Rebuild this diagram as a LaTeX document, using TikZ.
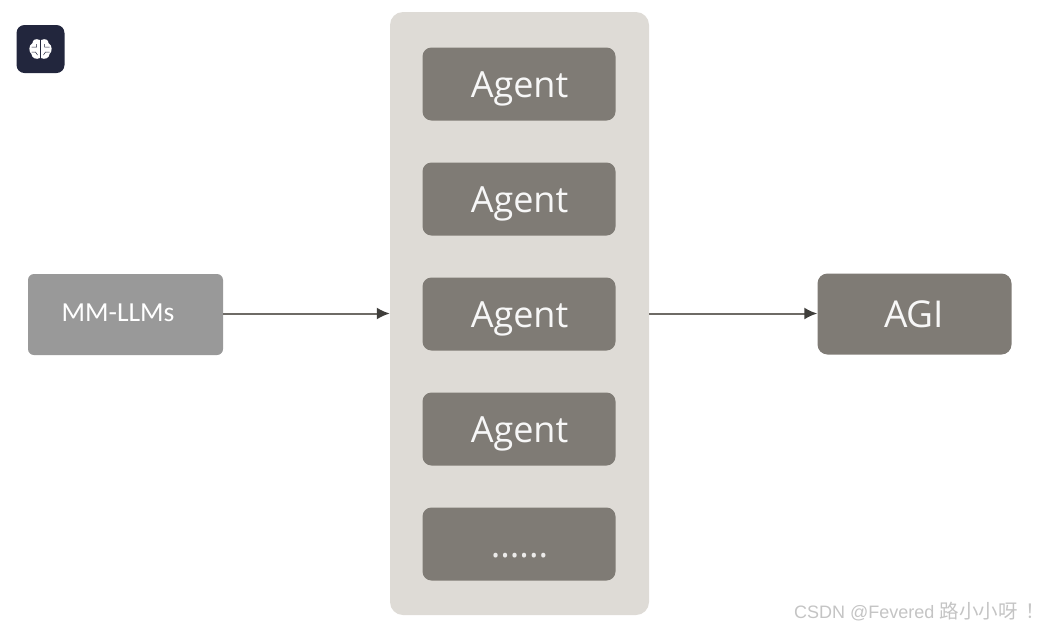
\documentclass[tikz,border=0pt]{standalone}
\usepackage{fontspec}
\setmainfont{Open Sans}
\newfontfamily\carlitofont{Carlito}
\newfontfamily\wmfont{Liberation Sans}
\newfontfamily\cjkfont{Noto Sans CJK SC}
\usetikzlibrary{arrows.meta}
\definecolor{panelc}{HTML}{DEDBD6}
\definecolor{agentc}{HTML}{7F7B75}
\definecolor{mmc}{HTML}{999999}
\definecolor{iconc}{HTML}{22263D}
\definecolor{linec}{HTML}{6E6B66}
\definecolor{tipc}{HTML}{3F3E3B}
\definecolor{wmc}{HTML}{C4C4C4}
\tikzset{
  panelbox/.style={fill=panelc,draw=none,rounded corners=13pt,minimum width=259pt,minimum height=603pt,inner sep=0pt},
  agentbox/.style={fill=agentc,draw=none,rounded corners=9pt,minimum width=193pt,minimum height=73pt,inner sep=0pt},
  agenttext/.style={text=white!94!agentc,inner sep=0pt,anchor=base,font=\fontsize{36}{36}\selectfont},
  mmbox/.style={fill=mmc,draw=none,rounded corners=6pt,minimum width=195pt,minimum height=81pt,inner sep=0pt},
  agibox/.style={fill=agentc,draw=none,rounded corners=10pt,minimum width=194pt,minimum height=81pt,inner sep=0pt},
  flow/.style={draw=linec,line width=2pt,-{Latex[length=13pt,width=12pt,color=tipc]}},
}
\begin{document}
\begin{tikzpicture}[x=1pt,y=-1pt]
\useasboundingbox (0,0) rectangle (1044,630);
\node[panelbox] (panel) at (519.5,313.5) {};
\node[agentbox] (a1) at (519,84) {};
\node[agentbox] (a2) at (519,199) {};
\node[agentbox] (a3) at (519,314) {};
\node[agentbox] (a4) at (519,429) {};
\node[agentbox] (a5) at (519,544) {};
\node[agenttext] (t1) at (519.5,97) {Agent};
\node[agenttext] (t2) at (519.5,212) {Agent};
\node[agenttext] (t3) at (519.5,327) {Agent};
\node[agenttext] (t4) at (519.5,442) {Agent};
\node[agenttext,text=white!85!agentc] (dots) at (519.5,557) {......};
\node[mmbox] (mm) at (125.5,314.5) {};
\node[text=white,inner sep=0pt,font=\carlitofont\fontsize{27.5}{28}\selectfont] (mmt) at (118,313) {MM-LLMs};
\node[agibox] (agi) at (914.5,314) {};
\node[text=white!94!agentc,inner sep=0pt,anchor=base,font=\fontsize{37}{37}\selectfont] (agit) at (914,327) {AGI};
\draw[flow] (mm.east |- 0,313.5) -- (panel.west |- 0,313.5);
\draw[flow] (panel.east |- 0,313.5) -- (agi.west |- 0,313.5);
\node[fill=iconc,draw=none,rounded corners=8pt,minimum size=48pt,inner sep=0pt] (icon) at (40.5,49) {};
% brain glyph
\begin{scope}[shift={(icon.center)}]
  \fill[white] (-0.6,-9) .. controls (-5,-11) and (-8,-9) .. (-8,-6)
     .. controls (-12,-4) and (-12,3) .. (-9,5)
     .. controls (-9,9) and (-4,11) .. (-0.6,9) -- cycle;
  \fill[white] (0.6,-9) .. controls (5,-11) and (8,-9) .. (8,-6)
     .. controls (12,-4) and (12,3) .. (9,5)
     .. controls (9,9) and (4,11) .. (0.6,9) -- cycle;
  \draw[iconc,line width=0.5pt] (-9,-2) -- (-4,-2) -- (-4,-5) (-9,3) -- (-5,3) -- (-3,6) (9,-2) -- (4,-2) -- (4,-5) (9,3) -- (5,3) -- (3,6);
\end{scope}
\node[text=wmc,anchor=west,inner sep=0pt,font=\wmfont\fontsize{18}{20}\selectfont] (wm) at (794,612) {CSDN @Fevered {\cjkfont\fontsize{19.5}{20}\selectfont 路小小呀\hspace{8pt}！}};
\end{tikzpicture}
\end{document}
